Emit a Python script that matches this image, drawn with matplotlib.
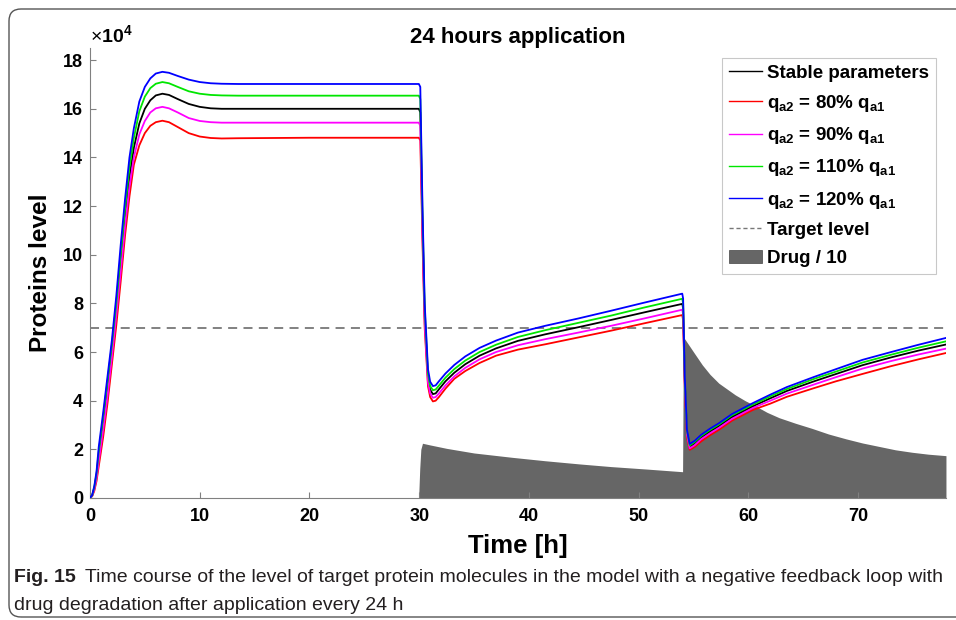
import matplotlib
matplotlib.use('Agg')
import matplotlib.pyplot as plt
from matplotlib.patches import FancyBboxPatch, Patch
from matplotlib.lines import Line2D

plt.rcParams['font.family'] = ['Liberation Sans', 'DejaVu Sans']
plt.rcParams['mathtext.fontset'] = 'custom'
plt.rcParams['mathtext.rm'] = 'Liberation Sans'
plt.rcParams['mathtext.bf'] = 'Liberation Sans:bold'

# ---------------------------------------------------------------------------
# Data (protein level in units of 1e4, time in hours)
# ---------------------------------------------------------------------------
t_rise = [0, 0.2, 0.4, 0.6, 0.8, 1.2, 1.6, 2.0, 2.4, 2.8, 3.2, 3.6, 4.0, 4.5, 5.0, 5.5,
          6.0, 6.6, 7.2, 8.0, 9.0, 10.0, 11.0, 12.0, 13.5, 20.0, 29.97]
t_dose1 = [30.1, 30.3, 30.5, 30.8, 31.0, 31.25, 31.5, 31.8, 32.4, 33.2, 34.2, 35.5,
           37.0, 39.0, 41.5, 44.5, 47.5, 50.5, 53.97]
t_dose2 = [54.05, 54.2, 54.4, 54.65, 55.1, 55.7, 56.5, 57.3, 58.5, 60.4, 62.0,
           63.5, 66.0, 68.0, 70.4, 73.0, 75.5, 78.0]
time = t_rise + t_dose1 + t_dose2

stable = ([0, 0.1, 0.4, 0.9, 1.7, 3.1, 4.5, 6.1, 7.8, 9.7, 11.6, 13.2, 14.4, 15.4,
           16.0, 16.35, 16.55, 16.62, 16.57, 16.4, 16.2, 16.08, 16.02, 16.0, 16.0,
           16.0, 16.0]
          + [15.85, 11.2, 7.5, 4.95, 4.45, 4.27, 4.3, 4.47, 4.8, 5.15, 5.5, 5.85,
             6.15, 6.46, 6.73, 7.02, 7.32, 7.63, 7.98]
          + [7.8, 4.8, 2.7, 2.1, 2.24, 2.49, 2.74, 2.96, 3.33, 3.77, 4.1, 4.4, 4.8,
             5.1, 5.46, 5.78, 6.06, 6.31])
q80 = ([0, 0.07, 0.3, 0.7, 1.3, 2.5, 3.9, 5.5, 7.1, 8.9, 10.8, 12.4, 13.7, 14.5,
        15.0, 15.3, 15.45, 15.51, 15.45, 15.25, 15.0, 14.86, 14.8, 14.78, 14.79,
        14.81, 14.81]
       + [14.7, 10.5, 7.0, 4.6, 4.15, 3.97, 4.0, 4.15, 4.5, 4.9, 5.22, 5.55, 5.85,
          6.1, 6.32, 6.6, 6.88, 7.18, 7.52]
       + [7.3, 4.6, 2.5, 1.98, 2.1, 2.33, 2.58, 2.8, 3.18, 3.62, 3.88, 4.16, 4.52,
          4.8, 5.1, 5.42, 5.7, 5.96])
q90 = ([0, 0.08, 0.35, 0.8, 1.5, 2.8, 4.2, 5.8, 7.5, 9.3, 11.2, 12.8, 14.0, 14.95,
        15.5, 15.85, 16.02, 16.08, 16.02, 15.85, 15.62, 15.5, 15.45, 15.43, 15.43,
        15.43, 15.43]
       + [15.3, 10.8, 7.2, 4.75, 4.3, 4.12, 4.15, 4.3, 4.63, 5.0, 5.35, 5.7, 6.0,
          6.28, 6.53, 6.8, 7.08, 7.38, 7.74]
       + [7.55, 4.7, 2.6, 2.04, 2.17, 2.42, 2.66, 2.88, 3.25, 3.7, 4.0, 4.29, 4.67,
          4.97, 5.32, 5.63, 5.9, 6.14])
q110 = ([0, 0.1, 0.45, 1.0, 1.9, 3.3, 4.8, 6.3, 8.0, 10.0, 11.9, 13.6, 14.8, 15.9,
         16.5, 16.85, 17.03, 17.1, 17.05, 16.9, 16.72, 16.62, 16.57, 16.55, 16.54,
         16.54, 16.54]
        + [16.4, 11.6, 7.8, 5.1, 4.6, 4.43, 4.46, 4.62, 4.95, 5.3, 5.65, 6.0, 6.3,
           6.62, 6.9, 7.2, 7.5, 7.83, 8.19]
        + [8.0, 4.9, 2.75, 2.16, 2.3, 2.55, 2.8, 3.02, 3.4, 3.84, 4.18, 4.48, 4.9,
           5.2, 5.57, 5.89, 6.18, 6.44])
q120 = ([0, 0.12, 0.5, 1.1, 2.1, 3.5, 5.0, 6.5, 8.3, 10.4, 12.3, 14.0, 15.2, 16.3,
         16.9, 17.25, 17.45, 17.52, 17.48, 17.35, 17.2, 17.1, 17.05, 17.03, 17.02,
         17.02, 17.02]
        + [16.9, 12.0, 8.0, 5.3, 4.78, 4.6, 4.63, 4.8, 5.12, 5.47, 5.82, 6.17, 6.47,
           6.8, 7.08, 7.38, 7.7, 8.03, 8.40]
        + [8.2, 5.0, 2.8, 2.22, 2.35, 2.6, 2.85, 3.07, 3.45, 3.9, 4.25, 4.56, 4.98,
           5.3, 5.68, 6.0, 6.3, 6.58])

target_level = 7.0

# drug / 10 (same units)
t_drug = [0, 29.95, 30.05, 30.15, 30.3, 31.0, 32.5, 35.0, 38.5, 41.5, 44.6, 47.5,
          50.7, 54.0, 54.05, 54.15, 55.0, 55.8, 56.5, 57.3, 58.8, 59.7, 60.7, 61.7,
          62.8, 64.3, 65.8, 67.3, 68.9, 70.4, 71.9, 73.4, 74.9, 76.4, 78.0]
drug = [0, 0, 1.2, 2.0, 2.25, 2.18, 2.04, 1.85, 1.67, 1.53, 1.40, 1.29,
        1.19, 1.08, 4.5, 6.57, 6.0, 5.47, 5.08, 4.72, 4.24, 4.0, 3.77, 3.52,
        3.3, 3.07, 2.86, 2.63, 2.43, 2.26, 2.12, 1.98, 1.88, 1.8, 1.74]

series = [
    ('Stable parameters', stable, 'black'),
    (r'$\mathbf{q_{a2}}$ = 80% $\mathbf{q_{a1}}$', q80, '#ff0000'),
    (r'$\mathbf{q_{a2}}$ = 90% $\mathbf{q_{a1}}$', q90, '#ff00ff'),
    (r'$\mathbf{q_{a2}}$ = 110% $\mathbf{q_{a1}}$', q110, '#00e600'),
    (r'$\mathbf{q_{a2}}$ = 120% $\mathbf{q_{a1}}$', q120, '#0000ff'),
]

# ---------------------------------------------------------------------------
fig = plt.figure(figsize=(9.56, 6.2), dpi=100)
ax = fig.add_axes([0.0941, 0.1968, 0.8954, 0.7258])

ax.fill_between(t_drug, 0, drug, color='#666666', lw=0, zorder=1)
ax.axhline(target_level, color='#777777', lw=1.3, ls=(0, (5, 3.5)), zorder=2)
handles = []
for label, vals, col in series:
    ax.plot(time, vals, color=col, lw=1.3, zorder=3)
    handles.append(Line2D([], [], color=col, lw=1.0, label=label))
handles.append(Line2D([], [], color='#777777', lw=1.0, ls=(0, (3, 2)), label='Target level'))
handles.append(Patch(facecolor='#666666', edgecolor='#444444', lw=0.5, label='Drug / 10'))

ax.set_xlim(0, 78)
ax.set_ylim(0, 18.5)
ax.set_xticks(range(0, 80, 10))
ax.set_yticks(range(0, 19, 2))
for s in ['top', 'right']:
    ax.spines[s].set_visible(False)
for s in ['left', 'bottom']:
    ax.spines[s].set_color('#808080')
ax.tick_params(direction='in', color='#808080', length=4, labelsize=13)
ax.tick_params(axis='x', pad=7)
ax.tick_params(axis='y', pad=5)
for lab in ax.get_xticklabels() + ax.get_yticklabels():
    lab.set_fontweight('bold')

ax.set_xlabel('Time [h]', fontsize=18.5, fontweight='bold', labelpad=7)
ax.set_ylabel('Proteins level', fontsize=17.5, fontweight='bold', labelpad=8)
ax.set_title('24 hours application', fontsize=16, fontweight='bold', pad=3)
ax.text(0.0, 1.003, r'$\times$10$^{\mathbf{4}}$', transform=ax.transAxes,
        fontsize=14, fontweight='bold', ha='left', va='bottom')

leg = ax.legend(handles=handles, loc='upper right', bbox_to_anchor=(0.988, 0.978),
                prop={'weight': 'bold', 'size': 13.5}, frameon=True, fancybox=False,
                handlelength=1.75, handletextpad=0.3, labelspacing=0.6,
                borderpad=0.35, borderaxespad=0)
leg.get_frame().set_edgecolor('#bbbbbb')
leg.get_frame().set_linewidth(0.8)

# outer rounded frame and caption
frame = FancyBboxPatch((9, 3), 960, 608, boxstyle='round,pad=0,rounding_size=12',
                       transform=None, fill=False, ec='#555555', lw=1.0)
fig.add_artist(frame)

cap_col = '#231f20'
fig.canvas.draw()
r = fig.canvas.get_renderer()
t1 = fig.text(14 / 956, 1 - 578 / 620, 'Fig. 15', fontsize=14, fontweight='bold',
              color=cap_col, va='center')
bb = t1.get_window_extent(r)
fig.text((bb.x1 + 9) / 956, 1 - 578 / 620,
         'Time course of the level of target protein molecules in the model with a '
         'negative feedback loop with', fontsize=14, color=cap_col, va='center')
fig.text(14 / 956, 1 - 605 / 620, 'drug degradation after application every 24 h',
         fontsize=14, color=cap_col, va='center')

fig.savefig('out.png', dpi=100)
